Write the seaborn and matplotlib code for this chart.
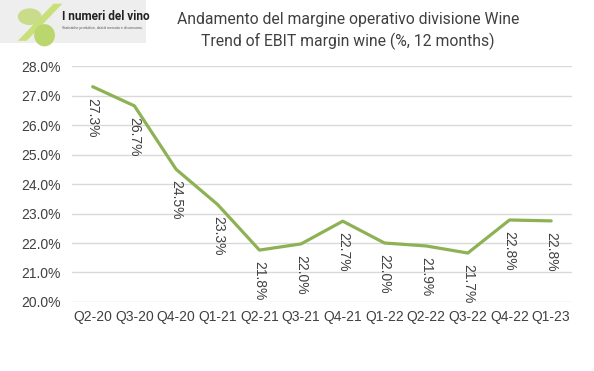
import matplotlib
matplotlib.use("Agg")
import matplotlib.pyplot as plt
import seaborn as sns
import pandas as pd
from matplotlib.patches import Ellipse, Polygon, Rectangle

quarters = ["Q2-20", "Q3-20", "Q4-20", "Q1-21", "Q2-21", "Q3-21", "Q4-21",
            "Q1-22", "Q2-22", "Q3-22", "Q4-22", "Q1-23"]
margin = [27.3, 26.65, 24.5, 23.3, 21.76, 21.97, 22.74, 22.0, 21.9, 21.66, 22.78, 22.75]
labels = ["27.3%", "26.7%", "24.5%", "23.3%", "21.8%", "22.0%", "22.7%",
          "22.0%", "21.9%", "21.7%", "22.8%", "22.8%"]
yticks = [20, 21, 22, 23, 24, 25, 26, 27, 28]

df = pd.DataFrame({"q": quarters, "m": margin, "i": range(len(quarters))})

sns.set_theme(style="white")
plt.rcParams["font.family"] = ["Liberation Sans", "DejaVu Sans"]

fig = plt.figure(figsize=(5.94, 3.71), dpi=100)
ax = fig.add_axes([0.121, 0.186, 0.842, 0.636])

sns.lineplot(data=df, x="i", y="m", ax=ax, color="#8cb254", linewidth=2.3)

ax.set_xlim(-0.5, len(quarters) - 0.5)
ax.set_ylim(20, 28)
ax.set_yticks(yticks)
ax.set_yticklabels([f"{v:.1f}%" for v in yticks], fontsize=10, color="#404040")
ax.set_xticks(range(len(quarters)))
ax.set_xticklabels(quarters, fontsize=10, color="#404040")
ax.tick_params(axis="both", length=0, pad=6)
ax.tick_params(axis="y", pad=8)
ax.grid(axis="y", color="#d9d9d9", linewidth=1)
ax.set_axisbelow(True)
for s in ax.spines.values():
    s.set_visible(False)
ax.set_xlabel("")
ax.set_ylabel("")

for i, (v, lab) in enumerate(zip(margin, labels)):
    ax.annotate(lab, (i, v), xytext=(0, -8), textcoords="offset points",
                rotation=-90, ha="center", va="top", fontsize=10, color="#404040")

fig.text(0.586, 0.948, "Andamento del margine operativo divisione Wine",
         ha="center", va="center", fontsize=11.3, color="#404040",
         family=["Roboto", "DejaVu Sans"])
fig.text(0.586, 0.889, "Trend of EBIT margin wine (%, 12 months)",
         ha="center", va="center", fontsize=11.3, color="#404040",
         family=["Roboto", "DejaVu Sans"])

# logo approximation
fig.patches.append(Rectangle((0.0, 0.885), 0.245, 0.115, transform=fig.transFigure,
                             facecolor="#eeeeee", edgecolor="none", zorder=0))
fig.patches.append(Polygon([(0.09, 0.99), (0.105, 0.99), (0.045, 0.89), (0.03, 0.89)],
                           closed=True, transform=fig.transFigure,
                           facecolor="#c9e07a", edgecolor="none"))
fig.patches.append(Ellipse((0.05, 0.955), 0.04, 0.045, transform=fig.transFigure,
                           facecolor="#c8dc8a", edgecolor="none"))
fig.patches.append(Ellipse((0.075, 0.905), 0.035, 0.06, transform=fig.transFigure,
                           facecolor="#bcd66e", edgecolor="none"))
fig.text(0.105, 0.955, "I numeri del vino", fontsize=8.5, color="#222222",
         va="center", ha="left", fontweight="bold", family=["Roboto", "DejaVu Sans"])
fig.text(0.105, 0.925, "Statistiche produttive, dati di mercato e di consumo,",
         fontsize=2.5, color="#555555", va="center", ha="left")

fig.savefig("out.png", dpi=100)
